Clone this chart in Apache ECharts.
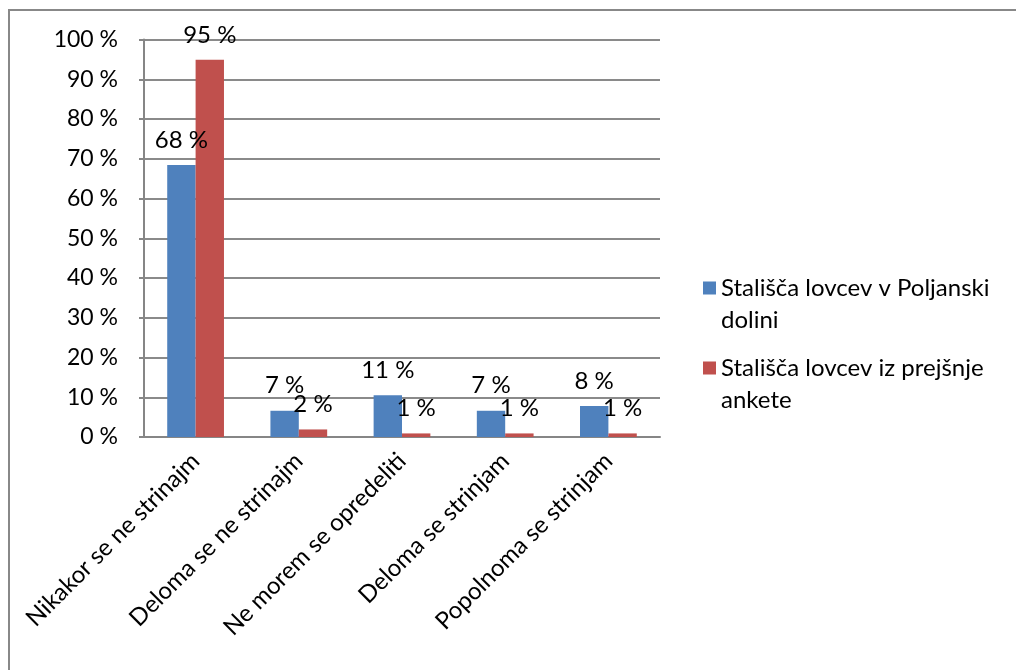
<!DOCTYPE html>
<html>
<head>
<meta charset="utf-8">
<script src="https://cdn.jsdelivr.net/npm/echarts@6/dist/echarts.min.js"></script>
<style>
html,body{margin:0;padding:0;background:#fff;}
#c{width:1016px;height:670px;}
</style>
</head>
<body>
<div id="c"></div>
<script>
const categories = ['Nikakor se ne strinajm', 'Deloma se ne strinajm', 'Ne morem se opredeliti', 'Deloma se strinjam', 'Popolnoma se strinjam'];
const seriesNames = ['Stališča lovcev v Poljanski dolini', 'Stališča lovcev iz prejšnje ankete'];
const poljanskaValues = [68.4, 6.6, 10.5, 6.6, 7.8];
const prejsnjaValues = [94.9, 1.9, 0.9, 0.9, 0.9];
const colors = ['#4F81BD', '#C0504D'];

const FONT = 'Lato';
const chart = echarts.init(document.getElementById('c'), null, {renderer: 'canvas'});

const labelCfg = {
  show: true,
  position: 'top',
  distance: 13,
  color: '#000',
  fontFamily: FONT,
  fontSize: 24,
  formatter: p => Math.round(p.value) + ' %'
};

const iconPath = 'path://M0,0L13,0L13,13L0,13Z M0,45L0.01,45L0.01,45Z';

chart.setOption({
  animation: false,
  backgroundColor: '#fff',
  textStyle: {fontFamily: FONT},
  graphic: [{
    type: 'rect',
    shape: {x: 9, y: 10, width: 1100, height: 800},
    style: {fill: 'none', stroke: '#888', lineWidth: 2},
    z: -10
  }],
  grid: {left: 144, right: 356, top: 39.5, bottom: 233, containLabel: false},
  legend: {
    orient: 'vertical',
    left: 703,
    top: 272,
    padding: 0,
    itemWidth: 13,
    itemHeight: 45,
    itemGap: 16,
    itemTextGap: 10,
    icon: iconPath,
    data: seriesNames,
    formatter: name => name.replace(/ (\S+)$/, '\n$1'),
    textStyle: {fontFamily: FONT, fontSize: 24, lineHeight: 32, color: '#000'}
  },
  xAxis: {
    type: 'category',
    data: categories,
    axisLine: {lineStyle: {color: '#868686', width: 2}},
    axisTick: {show: false},
    axisLabel: {
      interval: 0,
      rotate: 45,
      margin: 20,
      color: '#000',
      fontFamily: FONT,
      fontSize: 24
    }
  },
  yAxis: {
    type: 'value',
    min: 0,
    max: 100,
    interval: 10,
    axisLine: {show: true, lineStyle: {color: '#868686', width: 2}},
    axisTick: {show: true, length: 5, lineStyle: {color: '#868686', width: 2}},
    splitLine: {lineStyle: {color: '#8a8a8a', width: 2}},
    axisLabel: {
      formatter: '{value} %',
      margin: 26,
      color: '#000',
      fontFamily: FONT,
      fontSize: 23
    }
  },
  series: [
    {
      name: seriesNames[0],
      type: 'bar',
      data: poljanskaValues,
      itemStyle: {color: colors[0]},
      barGap: '0%',
      barCategoryGap: '45%',
      label: labelCfg
    },
    {
      name: seriesNames[1],
      type: 'bar',
      data: prejsnjaValues,
      itemStyle: {color: colors[1]},
      barGap: '0%',
      barCategoryGap: '45%',
      label: labelCfg
    }
  ]
});
</script>
</body>
</html>
